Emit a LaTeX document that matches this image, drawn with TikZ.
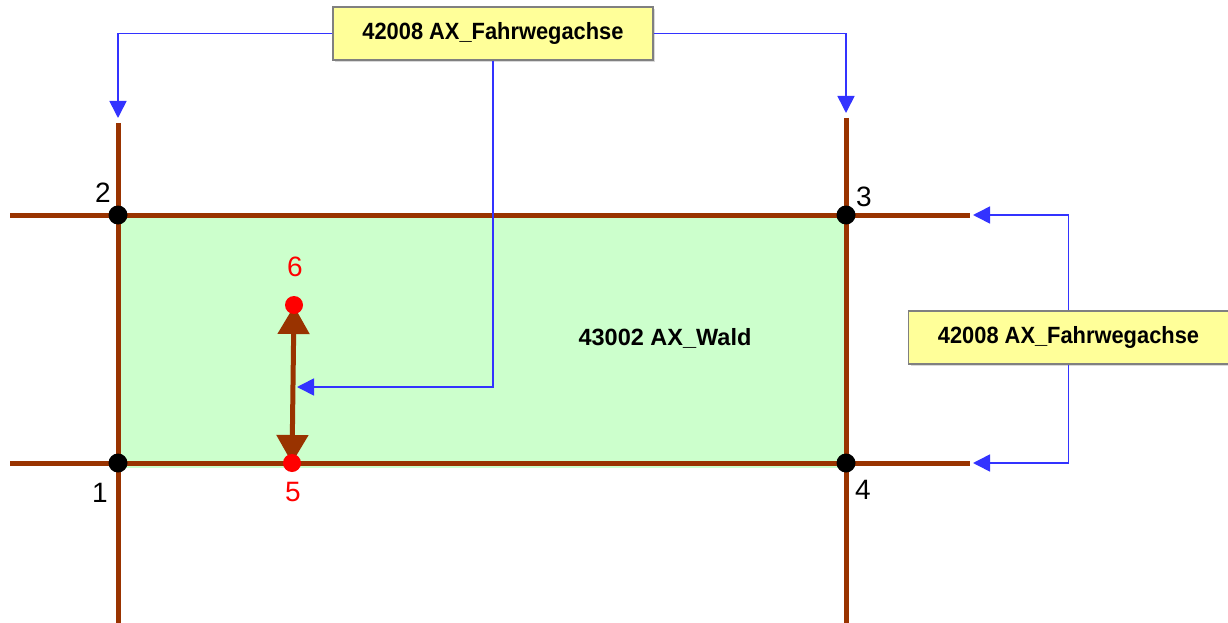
\documentclass[tikz,border=0pt]{standalone}
\usepackage{fontspec}
\setmainfont{Liberation Sans}
\newfontfamily\narrowbold[FakeStretch=0.93]{Liberation Sans Bold}
\newfontfamily\plainbold{Liberation Sans Bold}
\usetikzlibrary{arrows.meta,shadows}
\definecolor{brownline}{HTML}{993300}
\definecolor{wald}{HTML}{CCFFCC}
\definecolor{boxfill}{HTML}{FFFF99}
\definecolor{blueline}{HTML}{3333FF}
\tikzset{
  road/.style={draw=brownline, line width=5pt},
  vertex/.style={circle, fill=black, inner sep=0pt, minimum size=19pt},
  redvertex/.style={circle, fill=red, inner sep=0pt, minimum size=18pt},
  numlabel/.style={font=\fontsize{28}{30}\selectfont, inner sep=0pt},
  classbox/.style={draw=gray, fill=boxfill, line width=1.2pt, minimum width=320pt, minimum height=53pt,
    font=\narrowbold\fontsize{23.5}{26}\selectfont, inner sep=0pt,
    drop shadow={shadow xshift=2pt, shadow yshift=-2pt, fill=gray!50, opacity=0.6}},
  ref/.style={draw=blueline, line width=1.6pt, -{Triangle[length=17pt,width=17pt]}},
}
\begin{document}
\begin{tikzpicture}[x=1pt,y=-1pt]
\useasboundingbox (0,0) rectangle (1228,623);
% area
\fill[wald] (118,215) rectangle (846,468);
% roads
\coordinate (lt) at (118,123); \coordinate (lb) at (118,623);
\coordinate (rt) at (846,118); \coordinate (rb) at (846,623);
\coordinate (tl) at (10,215); \coordinate (tr) at (970,215);
\coordinate (bl) at (10,463); \coordinate (br) at (970,463);
\draw[road] (lt) -- (lb);
\draw[road] (rt) -- (rb);
\draw[road] (tl) -- (tr);
\draw[road] (bl) -- (br);
% area label
\node[font=\plainbold\fontsize{23.5}{26}\selectfont] (wald) at (665,338) {43002 AX\_Wald};
% segment 5-6
\coordinate (p5) at (292,463);
\coordinate (p6) at (294,305);
\draw[draw=brownline, line width=5pt, {Triangle[length=28pt,width=31pt]}-{Triangle[length=28pt,width=31pt]}] (292,463) -- (294,306);
% vertices
\node[vertex] (v1) at (118,463) {};
\node[vertex] (v2) at (118,215) {};
\node[vertex] (v3) at (846,215) {};
\node[vertex] (v4) at (846,463) {};
\node[redvertex] (v5) at (p5) {};
\node[redvertex] (v6) at (p6) {};
\node[numlabel] at (100,493) {1};
\node[numlabel] at (103,193) {2};
\node[numlabel] at (864,197) {3};
\node[numlabel] at (863,490) {4};
\node[numlabel, text=red] at (293,492) {5};
\node[numlabel, text=red] at (295,267) {6};
% boxes
\node[classbox] (topbox) at (493,33.5) {42008 AX\_Fahrwegachse};
\node[classbox] (rightbox) at (1068.5,337.5) {42008 AX\_Fahrwegachse};
% connector targets
\coordinate (aL) at (118,118);
\coordinate (aR) at (846,113);
\coordinate (aS) at (297,387);
\coordinate (aT) at (973,215);
\coordinate (aB) at (973,463);
\draw[ref] (topbox.west) -| (aL);
\draw[ref] (topbox.east) -| (aR);
\draw[ref] (topbox.south) |- (aS);
\draw[ref] (rightbox.north) |- (aT);
\draw[ref] (rightbox.south) |- (aB);
\end{tikzpicture}
\end{document}
